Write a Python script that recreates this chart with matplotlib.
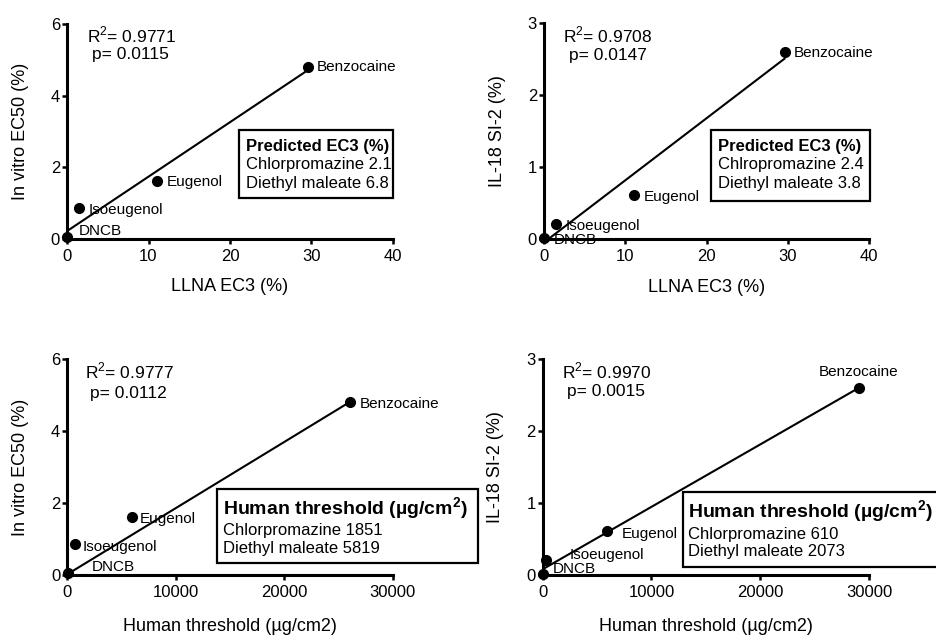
import matplotlib
matplotlib.use("Agg")
import matplotlib.pyplot as plt
from matplotlib.patches import Rectangle
import numpy as np

plt.rcParams['font.family'] = ['Liberation Sans', 'DejaVu Sans']
plt.rcParams['mathtext.fontset'] = 'custom'
plt.rcParams['mathtext.rm'] = 'Liberation Sans'
plt.rcParams['mathtext.bf'] = 'Liberation Sans:bold'

# ---------------- data ----------------
chemicals = ['DNCB', 'Isoeugenol', 'Eugenol', 'Benzocaine']
llna_ec3 = [0.05, 1.5, 11.1, 29.6]
invitro_ec50 = [0.05, 0.87, 1.62, 4.8]
il18_si2 = [0.02, 0.21, 0.61, 2.6]
human_thr_ec50 = [50, 710, 5940, 26100]
human_thr_il18 = [50, 300, 5880, 29040]

# regression lines (slope, intercept)
fit_p1 = (0.152, 0.22)
fit_p2 = (0.0862, -0.043)
fit_p3 = (1.84e-4, 0.02)
fit_p4 = (8.68e-5, 0.08)

r2_values = ['0.9771', '0.9708', '0.9777', '0.9970']
p_values = ['0.0115', '0.0147', '0.0112', '0.0015']

box_titles = ['Predicted EC3 (%)', 'Predicted EC3 (%)',
              r'Human threshold (µg/cm$^{\mathbf{2}}$)', r'Human threshold (µg/cm$^{\mathbf{2}}$)']
box_line1 = ['Chlorpromazine 2.1', 'Chlropromazine 2.4', 'Chlorpromazine 1851', 'Chlorpromazine 610']
box_line2 = ['Diethyl maleate 6.8', 'Diethyl maleate 3.8', 'Diethyl maleate 5819', 'Diethyl maleate 2073']

xlabels = ['LLNA EC3 (%)', 'LLNA EC3 (%)', 'Human threshold (µg/cm2)', 'Human threshold (µg/cm2)']
ylabels = ['In vitro EC50 (%)', 'IL-18 SI-2 (%)', 'In vitro EC50 (%)', 'IL-18 SI-2 (%)']

W, H = 936, 637
fig = plt.figure(figsize=(W / 100, H / 100), dpi=100)

def ax_rect(left, right, top, bottom):
    return [left / W, 1 - bottom / H, (right - left) / W, (bottom - top) / H]

rects = [ax_rect(67, 393, 24, 239),
         ax_rect(544, 869, 23.3, 239.3),
         ax_rect(67.3, 392.7, 359.3, 575),
         ax_rect(542.7, 869, 359.3, 575)]

panels = [
    dict(x=llna_ec3, y=invitro_ec50, fit=fit_p1, xlim=40, ylim=6,
         xt=[0, 10, 20, 30, 40], yt=[0, 2, 4, 6],
         offs=[(11, 6.7, 'left'), (9, -2.5, 'left'), (9, -1, 'left'), (9, 0, 'left')],
         stat=[(0.061, 0.949), (0.077, 0.856)],
         box=(0.528, 0.191, 1.0, 0.507), btx=0.549, bty=[0.429, 0.347, 0.259], tsize=12,
         xlc=-0.222),
    dict(x=llna_ec3, y=il18_si2, fit=fit_p2, xlim=40, ylim=3,
         xt=[0, 10, 20, 30, 40], yt=[0, 1, 2, 3],
         offs=[(9, -2, 'left'), (9, -2, 'left'), (10, -2, 'left'), (9, -1, 'left')],
         stat=[(0.059, 0.946), (0.077, 0.853)],
         box=(0.513, 0.177, 1.003, 0.506), btx=0.536, bty=[0.429, 0.344, 0.259], tsize=12,
         xlc=-0.222),
    dict(x=human_thr_ec50, y=invitro_ec50, fit=fit_p3, xlim=30000, ylim=6,
         xt=[0, 10000, 20000, 30000], yt=[0, 2, 4, 6],
         offs=[(24, 6, 'left'), (8, -3, 'left'), (8, -2, 'left'), (9, -2, 'left')],
         stat=[(0.054, 0.943), (0.070, 0.842)],
         box=(0.461, 0.054, 1.263, 0.399), btx=0.478, bty=[0.309, 0.205, 0.121], tsize=14,
         xlc=-0.24),
    dict(x=human_thr_il18, y=il18_si2, fit=fit_p4, xlim=30000, ylim=3,
         xt=[0, 10000, 20000, 30000], yt=[0, 1, 2, 3],
         offs=[(10, 5, 'left'), (24, 5, 'left'), (15, -3, 'left'), (0, 16, 'center')],
         stat=[(0.058, 0.943), (0.074, 0.850)],
         box=(0.429, 0.038, 1.263, 0.386), btx=0.444, bty=[0.293, 0.190, 0.108], tsize=14,
         xlc=-0.24),
]

for i, (rect, p) in enumerate(zip(rects, panels)):
    ax = fig.add_axes(rect)
    ax.set_xlim(0, p['xlim'])
    ax.set_ylim(0, p['ylim'])
    for s in ['top', 'right']:
        ax.spines[s].set_visible(False)
    for s in ['left', 'bottom']:
        ax.spines[s].set_linewidth(2.2)
    ax.set_xticks(p['xt'])
    ax.set_yticks(p['yt'])
    ax.tick_params(axis='both', direction='out', length=3.5, width=1.8, labelsize=12)
    ax.tick_params(axis='x', pad=3.5)
    ax.tick_params(axis='y', pad=1.5)

    xs = np.array(p['x'], dtype=float)
    slope, icpt = p['fit']
    lx = np.array([0, xs.max()])
    ax.plot(lx, slope * lx + icpt, color='black', lw=1.5, zorder=3)
    ax.plot(xs, p['y'], 'o', color='black', markersize=7, clip_on=False, zorder=4)

    for xv, yv, name, (dx, dy, ha) in zip(xs, p['y'], chemicals, p['offs']):
        ax.annotate(name, (xv, yv), xytext=(dx * 0.72, dy * 0.72), textcoords='offset points',
                    ha=ha, va='center', fontsize=11, zorder=5, annotation_clip=False)

    ax.text(p['stat'][0][0], p['stat'][0][1], r'R$^{\mathrm{2}}$= ' + r2_values[i],
            transform=ax.transAxes, fontsize=12.5, ha='left', va='center')
    ax.text(p['stat'][1][0], p['stat'][1][1], 'p= ' + p_values[i],
            transform=ax.transAxes, fontsize=12.5, ha='left', va='center')

    x0, y0, x1, y1 = p['box']
    ax.add_patch(Rectangle((x0, y0), x1 - x0, y1 - y0, transform=ax.transAxes,
                           facecolor='white', edgecolor='black', lw=1.6,
                           clip_on=False, zorder=6))
    ax.text(p['btx'], p['bty'][0], box_titles[i], transform=ax.transAxes,
            fontsize=p['tsize'], fontweight='bold', ha='left', va='center', zorder=7,
            clip_on=False)
    ax.text(p['btx'], p['bty'][1], box_line1[i], transform=ax.transAxes,
            fontsize=12, ha='left', va='center', zorder=7)
    ax.text(p['btx'], p['bty'][2], box_line2[i], transform=ax.transAxes,
            fontsize=12, ha='left', va='center', zorder=7)

    ax.set_xlabel(xlabels[i], fontsize=13)
    ax.set_ylabel(ylabels[i], fontsize=13)
    ax.xaxis.set_label_coords(0.5, p['xlc'])
    ax.xaxis.label.set_verticalalignment('center')
    ax.yaxis.set_label_coords(-0.144, 0.5)
    ax.yaxis.label.set_verticalalignment('center')

fig.savefig('out.png', dpi=100)
